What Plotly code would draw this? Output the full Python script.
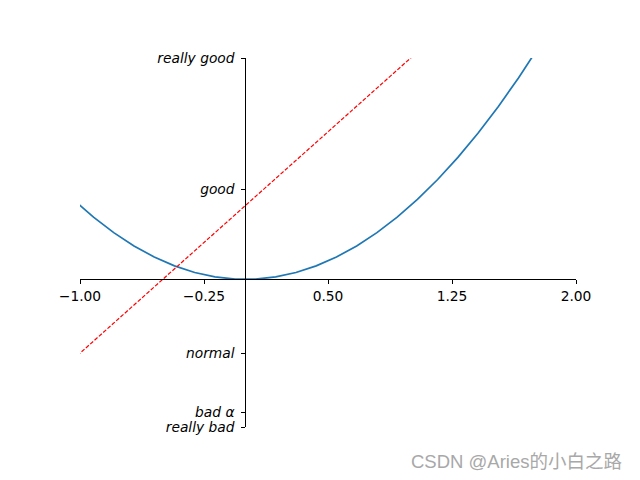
import plotly.graph_objects as go

# curve y = x^2 sampled points (linspace(-3,3,50) subset)
x_curve = [-1.16327, -1.04082, -0.91837, -0.79592, -0.67347, -0.55102, -0.42857,
           -0.30612, -0.18367, -0.06122, 0.06122, 0.18367, 0.30612, 0.42857,
           0.55102, 0.67347, 0.79592, 0.91837, 1.04082, 1.16327, 1.28571,
           1.40816, 1.53061, 1.65306, 1.77551, 1.89796]
y_curve = [1.35320, 1.08330, 0.84340, 0.63349, 0.45356, 0.30362, 0.18367,
           0.09371, 0.03374, 0.00375, 0.00375, 0.03374, 0.09371, 0.18367,
           0.30362, 0.45356, 0.63349, 0.84340, 1.08330, 1.35320, 1.65306,
           1.98293, 2.34277, 2.73261, 3.15244, 3.60225]

# line y = 2x + 1
x_line = [-1.2, 1.2]
y_line = [-1.4, 3.4]

x_tickvals = [-1.0, -0.25, 0.5, 1.25, 2.0]
x_ticktext = ["\u22121.00", "\u22120.25", "0.50", "1.25", "2.00"]
y_tickvals = [-2, -1.8, -1, 1.22, 3]
y_ticktext = ["<i>really bad</i>", "<i>bad \u03b1</i>", "<i>normal</i>", "<i>good</i>", "<i>really good</i>"]

xmin, xmax = -1, 2
ymin, ymax = -2, 3

fig = go.Figure()
fig.add_trace(go.Scatter(x=x_curve, y=y_curve, mode="lines",
                         line=dict(color="#1f77b4", width=1.7), showlegend=False))
fig.add_trace(go.Scatter(x=x_line, y=y_line, mode="lines",
                         line=dict(color="red", width=1.2, dash="4px,1.8px"), showlegend=False))

fig.update_layout(
    width=640, height=480,
    margin=dict(l=80, r=64, t=57.6, b=52.8),
    paper_bgcolor="white", plot_bgcolor="white",
    font=dict(family="DejaVu Sans", size=13.8, color="black"),
    xaxis=dict(range=[xmin, xmax], tickvals=x_tickvals, ticktext=x_ticktext,
               showgrid=False, zeroline=False, showline=True, linecolor="black",
               linewidth=1, ticks="outside", ticklen=4, tickwidth=1, tickcolor="black",
               anchor="free", position=(0 - ymin) / (ymax - ymin)),
    yaxis=dict(range=[ymin, ymax], tickvals=y_tickvals, ticktext=y_ticktext,
               showgrid=False, zeroline=False, showline=True, linecolor="black",
               linewidth=1, ticks="outside", ticklen=4, tickwidth=1, tickcolor="black",
               ticklabelstandoff=4,
               anchor="free", position=(0 - xmin) / (xmax - xmin)),
)

fig.add_annotation(text="CSDN @Aries的小白之路", xref="paper", yref="paper",
                   x=1.097, y=-0.094, xanchor="right", yanchor="middle",
                   showarrow=False,
                   font=dict(family="Liberation Sans, Noto Sans CJK SC", size=18.5, color="#a8a8a8"))

fig.write_html("out.html")
